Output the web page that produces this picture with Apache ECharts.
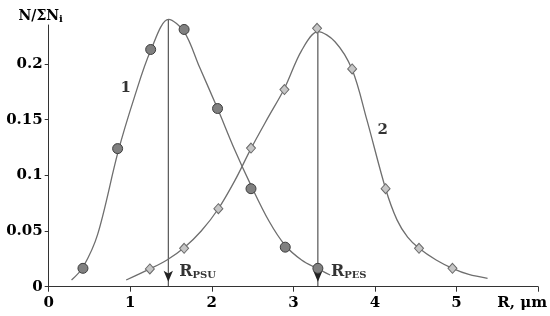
<!DOCTYPE html>
<html>
<head>
<meta charset="utf-8">
<script src="https://cdn.jsdelivr.net/npm/echarts@6.0.0/dist/echarts.min.js"></script>
<style>
  html, body { margin: 0; padding: 0; background: #fff; }
  #chart { width: 550px; height: 316px; }
</style>
</head>
<body>
<div id="chart"></div>
<script>
// measured points (circles = PSU, diamonds = PES)
var psuPoints = [[0.42, 0.0165], [0.845, 0.124], [1.25, 0.213], [1.66, 0.231], [2.07, 0.160], [2.48, 0.088], [2.90, 0.0355], [3.30, 0.0165]];
var pesPoints = [[1.24, 0.016], [1.66, 0.0345], [2.08, 0.070], [2.48, 0.1245], [2.89, 0.177], [3.29, 0.232], [3.72, 0.1955], [4.13, 0.088], [4.54, 0.0345], [4.95, 0.0165]];

// fitted curves
var psuCurve = [[0.28, 0.006], [0.42, 0.0175], [0.6, 0.047], [0.85, 0.121], [1.05, 0.170], [1.25, 0.212], [1.47, 0.240], [1.66, 0.229], [1.85, 0.197], [2.07, 0.160], [2.28, 0.123], [2.48, 0.091], [2.7, 0.059], [2.9, 0.037], [3.1, 0.024], [3.3, 0.016], [3.45, 0.0105]];
var pesCurve = [[0.95, 0.006], [1.24, 0.016], [1.45, 0.024], [1.66, 0.035], [1.87, 0.050], [2.08, 0.070], [2.28, 0.095], [2.48, 0.124], [2.69, 0.152], [2.89, 0.178], [3.1, 0.212], [3.3, 0.229], [3.51, 0.220], [3.72, 0.195], [3.9, 0.150], [4.13, 0.088], [4.27, 0.060], [4.4, 0.0445], [4.54, 0.0345], [4.75, 0.024], [4.95, 0.0165], [5.15, 0.011], [5.38, 0.0075]];

// peak markers (arrows down to the axis)
var psuPeak = [1.466, 0.240];
var pesPeak = [3.30, 0.229];

var yTicks = [0, 0.05, 0.1, 0.15, 0.2];
var xTicks = [0, 1, 2, 3, 4, 5, 6];

// text annotations
var notes = [
  { value: [0.88, 0.178], text: '{n|1}' },
  { value: [4.03, 0.141], text: '{n|2}' },
  { value: [1.60, 0.0135], text: '{r|R}{s|PSU}' },
  { value: [3.46, 0.0135], text: '{r|R}{s|PES}' }
];

var serif = '"DejaVu Serif", "Liberation Serif", serif';
var chart = echarts.init(document.getElementById('chart'));

function arrowSeries(p) {
  return {
    type: 'line', data: [[p[0], p[1]], [p[0], 0]], clip: false, z: 1, silent: true,
    showSymbol: true,
    symbol: function (v) { return v[1] === 0 ? 'arrow' : 'none'; },
    symbolRotate: 180, symbolSize: [7, 11], symbolOffset: [0, -5],
    lineStyle: { color: '#333', width: 1 },
    itemStyle: { color: '#222' }
  };
}

chart.setOption({
  animation: false,
  grid: { left: 48.7, right: 11.7, top: 25, bottom: 29.3 },
  xAxis: {
    type: 'value', min: 0, max: 6, interval: 1,
    axisLine: { lineStyle: { color: '#333', width: 1 } },
    axisTick: { length: 5, lineStyle: { color: '#333' }, customValues: xTicks },
    splitLine: { show: false },
    axisLabel: {
      customValues: xTicks,
      margin: 9,
      color: '#000', fontFamily: serif, fontWeight: 'bold', fontSize: 15,
      formatter: function (v) { return v === 6 ? '{u|R, μm}' : String(v); },
      rich: { u: { fontFamily: serif, fontWeight: 'bold', fontSize: 15, color: '#000', padding: [0, 32, 0, 0] } }
    }
  },
  yAxis: {
    type: 'value', min: 0, max: 0.235,
    name: '{a|N/ΣN}{b|i}', nameLocation: 'end', nameGap: 1,
    nameTextStyle: {
      padding: [0, 16, 0, 0],
      rich: {
        a: { fontFamily: serif, fontWeight: 'bold', fontSize: 14, color: '#000' },
        b: { fontFamily: serif, fontWeight: 'bold', fontSize: 10, color: '#000', padding: [6, 0, 0, 0] }
      }
    },
    axisLine: { show: true, lineStyle: { color: '#333', width: 1 } },
    axisTick: { show: true, length: 4, lineStyle: { color: '#333' }, customValues: yTicks },
    splitLine: { show: false },
    axisLabel: {
      customValues: yTicks,
      margin: 6,
      color: '#000', fontFamily: serif, fontWeight: 'bold', fontSize: 15
    }
  },
  series: [
    arrowSeries(psuPeak),
    arrowSeries(pesPeak),
    {
      type: 'line', data: psuCurve, smooth: 0.33, showSymbol: false, clip: false, z: 2,
      lineStyle: { color: '#6e6e6e', width: 1.3 }
    },
    {
      type: 'line', data: pesCurve, smooth: 0.33, showSymbol: false, clip: false, z: 2,
      lineStyle: { color: '#6e6e6e', width: 1.3 }
    },
    {
      type: 'scatter', data: psuPoints, symbol: 'circle', symbolSize: 10, z: 4,
      itemStyle: { color: '#808080', borderColor: '#3c3c3c', borderWidth: 1, opacity: 1 }
    },
    {
      type: 'scatter', data: pesPoints, symbol: 'diamond', symbolSize: [9, 10], z: 4,
      itemStyle: { color: '#c6c6c6', borderColor: '#6a6a6a', borderWidth: 1, opacity: 1 }
    },
    {
      type: 'scatter', symbolSize: 0, z: 5, silent: true,
      data: notes.map(function (d) { return { value: d.value, text: d.text }; }),
      label: {
        show: true, position: [0, 0], align: 'left', verticalAlign: 'middle',
        formatter: function (p) { return p.data.text; },
        rich: {
          n: { fontFamily: serif, fontWeight: 'bold', fontSize: 15, color: '#000' },
          r: { fontFamily: serif, fontWeight: 'bold', fontSize: 16, color: '#000' },
          s: { fontFamily: serif, fontWeight: 'bold', fontSize: 10, color: '#000', padding: [7, 0, 0, 0] }
        }
      }
    }
  ]
});
</script>
</body>
</html>
